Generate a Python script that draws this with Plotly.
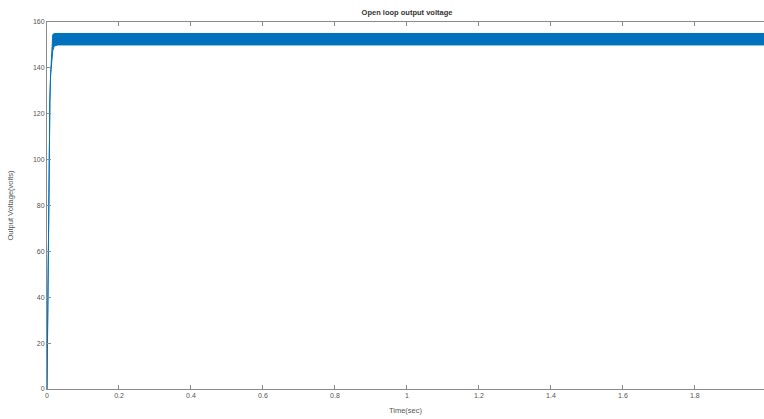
import plotly.graph_objects as go

# Envelope of the (very dense) output-voltage ripple
time_s = [0.0, 0.002, 0.004, 0.006, 0.008, 0.010, 0.012, 0.014, 0.016, 0.020, 0.030, 2.0]
v_lower = [0.0, 40.0, 80.0, 108.0, 126.0, 137.0, 142.0, 145.0, 147.5, 149.5, 150.0, 150.0]
v_upper = [0.0, 40.0, 80.0, 108.0, 126.0, 137.0, 143.0, 150.0, 154.5, 155.0, 155.0, 155.0]

x_ticks = [0, 0.2, 0.4, 0.6, 0.8, 1.0, 1.2, 1.4, 1.6, 1.8]
y_ticks = [0, 20, 40, 60, 80, 100, 120, 140, 160]

blue = "#0072BD"
axis_col = "#8a8a8a"
text_col = "#555555"

fig = go.Figure()
fig.add_trace(go.Scatter(x=time_s, y=v_lower, mode="lines",
                         line=dict(color=blue, width=1), showlegend=False))
fig.add_trace(go.Scatter(x=time_s, y=v_upper, mode="lines", fill="tonexty",
                         fillcolor=blue, line=dict(color=blue, width=1),
                         showlegend=False))

fig.update_layout(
    template="none",
    width=764, height=419,
    margin=dict(l=47, r=0, t=22, b=30, autoexpand=False),
    paper_bgcolor="white", plot_bgcolor="white",
    font=dict(family="Liberation Sans, Arial, sans-serif", size=7, color=text_col),
    title=dict(text="<b>Open loop output voltage</b>", x=407 / 764, xanchor="center",
               y=1 - 12 / 419, yanchor="middle",
               font=dict(size=7.5, color="#333333")),
    xaxis=dict(range=[0, 1.992], tickvals=x_ticks, ticks="inside", ticklen=4,
               tickcolor=axis_col, showline=True, linecolor=axis_col, linewidth=1,
               mirror="ticks", showgrid=False, zeroline=False, automargin=False,
               title=dict(text="Time(sec)", standoff=9, font=dict(size=7.5)),
               tickfont=dict(size=7, color=text_col)),
    yaxis=dict(range=[0, 160], tickvals=y_ticks, ticks="inside", ticklen=4,
               tickcolor=axis_col, showline=True, linecolor=axis_col, linewidth=1,
               mirror=False, showgrid=False, zeroline=False, automargin=False,
               title=dict(text="Output Voltage(volts)", standoff=18, font=dict(size=7.5)),
               tickfont=dict(size=7, color=text_col)),
)

fig.write_html("out.html", config={"displayModeBar": False},
               post_script="document.body.style.margin='0';document.body.style.overflow='hidden';")
